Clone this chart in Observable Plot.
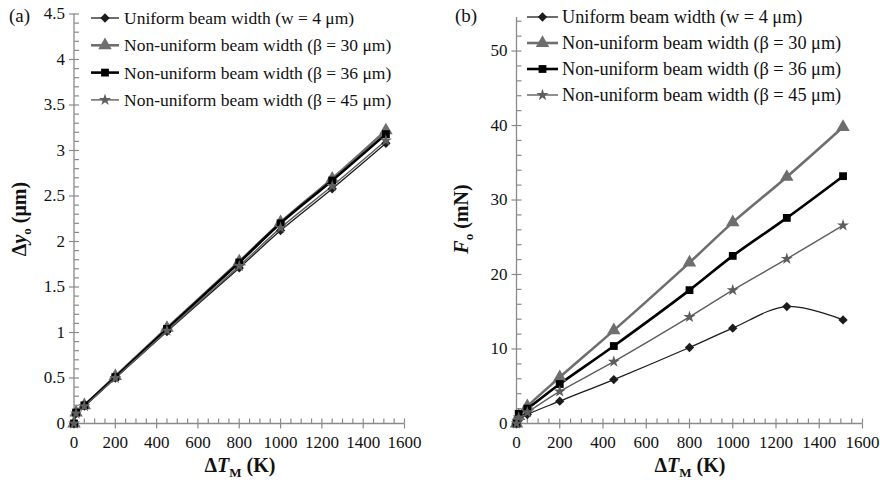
<!DOCTYPE html>
<html><head><meta charset="utf-8">
<script src="https://cdn.jsdelivr.net/npm/d3@7"></script>
<script src="https://cdn.jsdelivr.net/npm/@observablehq/plot@0.6"></script>
<style>
body{margin:0;background:#fff;}
#wrap{display:flex;width:880px;height:482px;}
#wrap svg, #wrap svg text{font-family:"Liberation Serif","Times New Roman",serif !important;}
#wrap svg{overflow:visible;}
</style></head><body><div id="wrap"></div>
<script>
// ---- data ----
const deltaT = [0, 10, 50, 200, 450, 800, 1000, 1250, 1510];
const seriesNames = [
  "Uniform beam width (w = 4 μm)",
  "Non-uniform beam width (β = 30 μm)",
  "Non-uniform beam width (β = 36 μm)",
  "Non-uniform beam width (β = 45 μm)"
];
// panel (a): Δy_o (μm)
const dyUniform = [0, 0.11, 0.19, 0.50, 1.01, 1.71, 2.12, 2.58, 3.08];
const dyBeta30  = [0, 0.12, 0.20, 0.52, 1.05, 1.78, 2.21, 2.69, 3.22];
const dyBeta36  = [0, 0.12, 0.20, 0.51, 1.04, 1.77, 2.20, 2.67, 3.18];
const dyBeta45  = [0, 0.11, 0.19, 0.50, 1.02, 1.73, 2.15, 2.61, 3.11];
// panel (b): F_o (mN)
const fUniform = [0, 0.5, 1.2, 3.0, 5.9, 10.2, 12.8, 15.7, 13.9];
const fBeta30  = [0, 1.0, 2.3, 6.2, 12.5, 21.6, 27.0, 33.1, 39.8];
const fBeta36  = [0, 1.3, 2.0, 5.3, 10.4, 17.9, 22.5, 27.6, 33.2];
const fBeta45  = [0, 0.8, 1.5, 4.3, 8.3, 14.3, 17.9, 22.1, 26.6];
// axis ticks
const xMajor = [0, 200, 400, 600, 800, 1000, 1200, 1400, 1600];
const xMinor = d3.range(0, 1601, 50);
const yMajorA = [0, 0.5, 1, 1.5, 2, 2.5, 3, 3.5, 4, 4.5];
const yMinorA = d3.range(0, 45.1, 1).map(d => d / 10);
const yMajorB = [0, 10, 20, 30, 40, 50];
const yMinorB = d3.range(0, 55, 2);

// ---- styles ----
const FONT = "'Liberation Serif','Times New Roman',serif";
const styles = [
  {stroke: "#1c1c1c", sw: 1.3, symbol: "diamond2", d3sym: d3.symbolDiamond2, r: 4.2},
  {stroke: "#6e6e6e", sw: 2.6, symbol: "triangle", d3sym: d3.symbolTriangle, r: 5.0},
  {stroke: "#000000", sw: 2.6, symbol: "square", d3sym: d3.symbolSquare, r: 4.4},
  {stroke: "#5e5e5e", sw: 1.4, symbol: "star", d3sym: d3.symbolStar, r: 3.8}
];
const axisColor = "#8a8a8a";
const tickUp = {draw(c) { c.moveTo(0, 0); c.lineTo(0, -5); }};
const tickDown = {draw(c) { c.moveTo(0, 0); c.lineTo(0, 5); }};
const tickRight = {draw(c) { c.moveTo(0, 0); c.lineTo(5, 0); }};
const tickLeft = {draw(c) { c.moveTo(0, 0); c.lineTo(-5, 0); }};

function rows(vals) { return deltaT.map((x, i) => ({x, y: vals[i]})); }

function makePanel({series, yDomain, yMajor, yMinor, marginLeft, marginRight, marginTop, legend, label, yTitle, xTitleX, yTitleX}) {
  const marks = [
    Plot.ruleY([0], {stroke: axisColor, strokeWidth: 1.3}),
    Plot.ruleX([0], {stroke: axisColor, strokeWidth: 1.3}),
    Plot.dot(xMinor, {x: d => d, y: 0, symbol: tickUp, fill: "none", stroke: axisColor, strokeWidth: 1.2}),
    Plot.dot(xMajor, {x: d => d, y: 0, symbol: tickDown, fill: "none", stroke: axisColor, strokeWidth: 1.2}),
    Plot.dot(yMinor, {x: 0, y: d => d, symbol: tickRight, fill: "none", stroke: axisColor, strokeWidth: 1.2}),
    Plot.dot(yMajor, {x: 0, y: d => d, symbol: tickLeft, fill: "none", stroke: axisColor, strokeWidth: 1.2}),
    Plot.axisX({ticks: xMajor, tickFormat: d => String(d), tickSize: 0, tickPadding: 12, fontSize: 17, fill: "#111", label: null}),
    Plot.axisY({ticks: yMajor, tickFormat: d => String(d), tickSize: 0, tickPadding: 9, fontSize: 17, fill: "#111", label: null})
  ];
  series.forEach((vals, i) => {
    const s = styles[i];
    marks.push(Plot.line(rows(vals), {x: "x", y: "y", stroke: s.stroke, strokeWidth: s.sw, curve: "catmull-rom"}));
  });
  series.forEach((vals, i) => {
    const s = styles[i];
    marks.push(Plot.dot(rows(vals), {x: "x", y: "y", symbol: s.symbol, r: s.r, fill: s.stroke, stroke: "none"}));
  });
  const chart = Plot.plot({
    width: 440, height: 482,
    marginLeft, marginRight, marginTop, marginBottom: 59,
    style: {background: "#fff", fontFamily: FONT},
    x: {domain: [0, 1600], label: null},
    y: {domain: yDomain, label: null},
    marks
  });
  const svg = d3.select(chart);
  // legend
  const lg = svg.append("g").attr("text-anchor", "start").attr("font-family", FONT);
  seriesNames.forEach((name, i) => {
    const s = styles[i];
    const cy = legend.y0 + i * legend.dy;
    lg.append("line").attr("x1", legend.x1).attr("x2", legend.x2).attr("y1", cy).attr("y2", cy)
      .attr("stroke", s.stroke).attr("stroke-width", s.sw);
    lg.append("path").attr("transform", `translate(${(legend.x1 + legend.x2) / 2},${cy})`)
      .attr("d", d3.symbol(s.d3sym, s.r * s.r * Math.PI)()).attr("fill", s.stroke);
    lg.append("text").attr("x", legend.tx).attr("y", cy + 6).attr("text-anchor", "start")
      .attr("font-size", legend.fs).attr("fill", "#111").text(name);
  });
  // panel label
  svg.append("text").attr("x", label.x).attr("y", 22).attr("text-anchor", "start").attr("font-family", FONT)
    .attr("font-size", 19).attr("fill", "#111").text(label.t);
  // x title: ΔT_M (K)
  const xt = svg.append("text").attr("x", xTitleX).attr("y", 472).attr("text-anchor", "middle").attr("font-family", FONT)
    .attr("font-size", 20).attr("font-weight", "bold").attr("fill", "#111");
  xt.append("tspan").text("Δ");
  xt.append("tspan").attr("font-style", "italic").text("T");
  xt.append("tspan").attr("font-size", 13).attr("dy", 5).text("M");
  xt.append("tspan").attr("dy", -5).text(" (K)");
  // y title
  const yt = svg.append("text").attr("transform", `translate(${yTitleX},219) rotate(-90)`).attr("text-anchor", "middle")
    .attr("font-family", FONT).attr("font-size", 20).attr("font-weight", "bold").attr("fill", "#111");
  yTitle.forEach(p => {
    const t = yt.append("tspan").text(p.t);
    if (p.it) t.attr("font-style", "italic");
    if (p.sub) t.attr("font-size", 13).attr("dy", 5);
    if (p.up) t.attr("dy", -5);
  });
  return chart;
}

const wrap = document.getElementById("wrap");
wrap.appendChild(makePanel({
  series: [dyUniform, dyBeta30, dyBeta36, dyBeta45],
  yDomain: [0, 4.5], yMajor: yMajorA, yMinor: yMinorA,
  marginLeft: 73.5, marginRight: 36, marginTop: 13.5,
  legend: {x1: 91, x2: 119, tx: 124, y0: 18, dy: 27.3, fs: 17.5},
  label: {x: 9, t: "(a)"},
  yTitle: [{t: "Δ"}, {t: "y", it: true}, {t: "o", sub: true}, {t: " (μm)", up: true}],
  xTitleX: 240, yTitleX: 26
}));
wrap.appendChild(makePanel({
  series: [fUniform, fBeta30, fBeta36, fBeta45],
  yDomain: [0, 54.5], yMajor: yMajorB, yMinor: yMinorB,
  marginLeft: 76, marginRight: 18, marginTop: 17,
  legend: {x1: 87, x2: 118, tx: 122, y0: 17, dy: 26, fs: 18.3},
  label: {x: 15, t: "(b)"},
  yTitle: [{t: "F", it: true}, {t: "o", sub: true}, {t: " (mN)", up: true}],
  xTitleX: 250, yTitleX: 28
}));
</script></body></html>
